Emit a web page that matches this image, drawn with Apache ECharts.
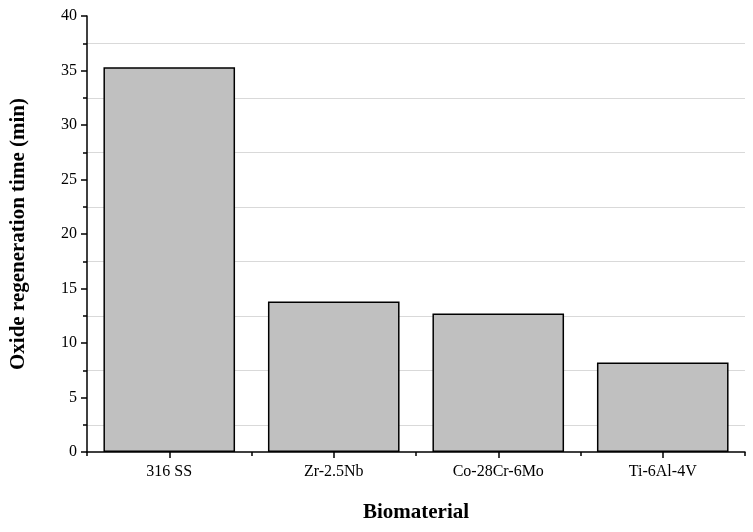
<!DOCTYPE html>
<html>
<head>
<meta charset="utf-8">
<script src="https://cdn.jsdelivr.net/npm/echarts@6/dist/echarts.min.js"></script>
<style>html,body{margin:0;padding:0;background:#fff}#chart{width:753px;height:532px}</style>
</head>
<body>
<div id="chart"></div>
<script>
var materials = ['316 SS', 'Zr-2.5Nb', 'Co-28Cr-6Mo', 'Ti-6Al-4V'];
var regenTime = [35.3, 13.8, 12.7, 8.2];
var gridLevels = [2.5, 7.5, 12.5, 17.5, 22.5, 27.5, 32.5, 37.5];

var font = 'Liberation Serif';
var chart = echarts.init(document.getElementById('chart'));
chart.setOption({
    animation: false,
    grid: {left: 84, right: 8, top: 16, bottom: 80},
    xAxis: [{
        type: 'category',
        data: materials,
        axisLine: {lineStyle: {color: '#000', width: 1.5}},
        axisTick: {show: true, interval: 0, length: 4, lineStyle: {color: '#000', width: 1.5}},
        axisLabel: {show: false},
        name: 'Biomaterial',
        nameLocation: 'middle',
        nameGap: 50,
        nameTextStyle: {fontFamily: font, fontWeight: 'bold', fontSize: 21, color: '#000'}
    }, {
        type: 'category',
        data: materials,
        position: 'bottom',
        axisLine: {show: false},
        axisTick: {show: true, alignWithLabel: true, interval: 0, length: 6, lineStyle: {color: '#000', width: 1.5}},
        axisLabel: {interval: 0, margin: 12, fontFamily: font, fontSize: 16, color: '#000'}
    }],
    yAxis: {
        type: 'value',
        min: 0,
        max: 40,
        interval: 5,
        axisLine: {show: true, lineStyle: {color: '#000', width: 1.5}},
        axisTick: {show: true, length: 6, lineStyle: {color: '#000', width: 1.5}},
        minorTick: {show: true, splitNumber: 2, length: 4, lineStyle: {color: '#000', width: 1.5}},
        splitLine: {show: false},
        axisLabel: {fontFamily: font, fontSize: 16, color: '#000', margin: 10},
        name: 'Oxide regeneration time (min)',
        nameLocation: 'middle',
        nameGap: 58,
        nameTextStyle: {fontFamily: font, fontWeight: 'bold', fontSize: 21, color: '#000'}
    },
    series: [{
        type: 'bar',
        data: regenTime,
        barCategoryGap: '20%',
        itemStyle: {color: '#c0c0c0', borderColor: '#000', borderWidth: 1.5},
        markLine: {
            silent: true,
            symbol: 'none',
            label: {show: false},
            lineStyle: {color: '#d9d9d9', type: 'solid', width: 1},
            data: gridLevels.map(function (v) { return {yAxis: v}; }),
            z: 0
        },
        z: 2
    }]
});
</script>
</body>
</html>
